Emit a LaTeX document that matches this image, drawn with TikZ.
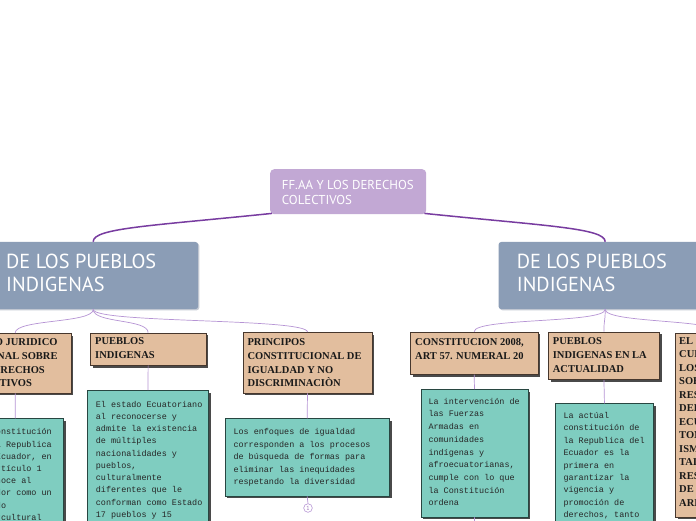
\documentclass[tikz,border=0pt]{standalone}
\usepackage{fontspec}
\usetikzlibrary{shadows,calc}
\newfontfamily\rootfont{PT Sans}
\newfontfamily\tanfont{Liberation Serif}
\newfontfamily\tealfont{Liberation Mono}
\definecolor{rootfill}{RGB}{194,168,212}
\definecolor{mainfill}{RGB}{139,157,182}
\definecolor{mainshadow}{RGB}{200,205,214}
\definecolor{tanfill}{RGB}{226,190,158}
\definecolor{tanborder}{RGB}{70,55,45}
\definecolor{tealfill}{RGB}{127,205,192}
\definecolor{tealborder}{RGB}{40,70,65}
\definecolor{shadowdark}{RGB}{55,55,55}
\definecolor{rootline}{RGB}{120,60,160}
\definecolor{branchline}{RGB}{182,148,212}
\newcommand\firststrut[1]{\rule{0pt}{#1}}
\tikzset{
  rootbox/.style={fill=rootfill, rounded corners=4pt, inner sep=0, anchor=north west},
  mainbox/.style={fill=mainfill, rounded corners=3pt, inner sep=0, anchor=north west,
    drop shadow={shadow xshift=1.2pt, shadow yshift=-1.2pt, fill=mainshadow, opacity=1}},
  tanbox/.style={fill=tanfill, draw=tanborder, line width=0.6pt, inner sep=0, anchor=north west,
    drop shadow={shadow xshift=2.2pt, shadow yshift=-2.2pt, fill=shadowdark, opacity=0.9}},
  tealbox/.style={fill=tealfill, draw=tealborder, line width=0.6pt, inner sep=0, anchor=north west,
    drop shadow={shadow xshift=2.2pt, shadow yshift=-2.2pt, fill=shadowdark, opacity=0.9}},
  roottext/.style={anchor=north west, inner sep=0, align=left, text=white,
    font=\rootfont\fontsize{12.9}{15}\selectfont},
  maintext/.style={anchor=north west, inner sep=0, align=left, text=white,
    font=\rootfont\fontsize{20.3}{23.3}\selectfont},
  tantext/.style={anchor=north west, inner sep=0, align=left, text=black!90,
    font=\tanfont\bfseries\fontsize{10.5}{13.8}\selectfont},
  tealtext/.style={anchor=north west, inner sep=0, align=left, text=black!85,
    font=\tealfont\fontsize{8.45}{12.4}\selectfont},
  rootconn/.style={draw=rootline, line width=1.5pt},
  branchconn/.style={draw=branchline, line width=0.7pt},
}
\begin{document}
\begin{tikzpicture}[x=1pt,y=-1pt]
\useasboundingbox (0,0) rectangle (696,520);
\fill[white] (0,0) rectangle (696,520);
\clip (0,0) rectangle (696,520);

% root
\node[rootbox, minimum width=156pt, minimum height=45pt] (root) at (270,169) {};
\node[roottext] (roott) at (281.7,179.6) {\firststrut{10pt}FF.AA Y LOS DERECHOS\\COLECTIVOS};

% main boxes
\node[mainbox, minimum width=210pt, minimum height=67.3pt] (lm) at (-12,241.7) {};
\node[maintext] (lmt) at (6,253.4) {\firststrut{15pt}DE LOS PUEBLOS\\INDIGENAS};
\node[mainbox, minimum width=213.4pt, minimum height=67.3pt] (rm) at (498.3,241.7) {};
\node[maintext] (rmt) at (516.7,253.4) {\firststrut{15pt}DE LOS PUEBLOS\\INDIGENAS};

% tan boxes
\node[tanbox, minimum width=111.7pt, minimum height=59.7pt] (l1) at (-41,333) {};
\node[tantext] (l1t) at (-38,335.2) {\firststrut{10pt}MARCO JURIDICO\\NACIONAL SOBRE\\LOS DERECHOS\\COLECTIVOS};
\node[tanbox, minimum width=115.7pt, minimum height=32.3pt] (l2) at (90,332.7) {};
\node[tantext] (l2t) at (95,334.5) {\firststrut{10pt}PUEBLOS\\INDIGENAS};
\node[tanbox, minimum width=129pt, minimum height=60.7pt] (l3) at (242.7,332) {};
\node[tantext] (l3t) at (247.3,335.2) {\firststrut{10pt}PRINCIPOS\\CONSTITUCIONAL DE\\IGUALDAD Y NO\\DISCRIMINACIÒN};
\node[tanbox, minimum width=127.7pt, minimum height=42.3pt] (r1) at (410,331.7) {};
\node[tantext] (r1t) at (415,335.2) {\firststrut{10pt}CONSTITUCION 2008,\\ART 57. NUMERAL 20};
\node[tanbox, minimum width=110.7pt, minimum height=47.6pt] (r2) at (548.3,331.7) {};
\node[tantext] (r2t) at (552.7,334.2) {\firststrut{10pt}PUEBLOS\\INDIGENAS EN LA\\ACTUALIDAD};
\node[tanbox, minimum width=90pt, minimum height=183.7pt] (r3) at (675,333) {};
\node[tantext, font=\tanfont\bfseries\fontsize{10.5}{13.5}\selectfont] (r3t) at (679,334.2) {\firststrut{10pt}EL IMPACTO\\CULTURAL DE\\LOS PUEBLOS\\SOBRE EL\\RESPETO\\DEL ESTADO\\ECUATORIANO\\TOMANDO EN\\ISMOS\\TALES\\RESPETO\\DE LAS\\ARMAS};

% teal boxes
\node[tealbox, minimum width=96pt, minimum height=130pt] (l1b) at (-33,418.3) {};
\node[tealtext, font=\tealfont\fontsize{8.45}{12.2}\selectfont] (l1bt) at (-24.5,424.6) {\firststrut{10pt}La Constitución\\de la Republica\\del Ecuador, en\\su artículo 1\\reconoce al\\Ecuador como un\\Estado\\intercultural};
\node[tealbox, minimum width=120.7pt, minimum height=160pt] (l2b) at (87.3,390) {};
\node[tealtext, font=\tealfont\fontsize{8.45}{12.25}\selectfont] (l2bt) at (95.7,397) {\firststrut{10pt}El estado Ecuatoriano\\al reconocerse y\\admite la existencia\\de múltiples\\nacionalidades y\\pueblos,\\culturalmente\\diferentes que le\\conforman como Estado\\17 pueblos y 15};
\node[tealbox, minimum width=164.3pt, minimum height=77.4pt] (l3b) at (224.7,418.3) {};
\node[tealtext, font=\tealfont\fontsize{8.45}{12.5}\selectfont] (l3bt) at (233.3,424.6) {\firststrut{10pt}Los enfoques de igualdad\\corresponden a los procesos\\de búsqueda de formas para\\eliminar las inequidades\\respetando la diversidad};
\node[tealbox, minimum width=107pt, minimum height=127.7pt] (r1b) at (420.7,389) {};
\node[tealtext, font=\tealfont\fontsize{8.45}{12.7}\selectfont] (r1bt) at (428.3,394) {\firststrut{10pt}La intervención de\\las Fuerzas\\Armadas en\\comunidades\\indígenas y\\afroecuatorianas,\\cumple con lo que\\la Constitución\\ordena};
\node[tealbox, minimum width=98.3pt, minimum height=150pt] (r2b) at (555,403.3) {};
\node[tealtext, font=\tealfont\fontsize{8.45}{12.4}\selectfont] (r2bt) at (563.3,408.3) {\firststrut{10pt}La actúal\\constitución de\\la Republica del\\Ecuador es la\\primera en\\garantizar la\\vigencia y\\promoción de\\derechos, tanto};

% small circle
\node[circle, draw=branchline, fill=white, line width=0.6pt, inner sep=0, minimum size=8.6pt,
  text=rootline!70, font=\rootfont\fontsize{6}{6}\selectfont] (c1) at (308,508) {1};
\coordinate (r1down) at (474,535);

% root connectors
\draw[rootconn] ($(root.south west)+(2,-1)$) .. controls (150,226) and (93,228) .. (lm.north);
\draw[rootconn] ($(root.south east)+(-2,-1)$) .. controls (546,226) and (605,228) .. (rm.north);

% branches
\draw[branchconn] (lm.south) .. controls +(0,14) and +(0,-14) .. (l1.north);
\draw[branchconn] (lm.south) .. controls +(0,14) and +(0,-14) .. (l2.north);
\draw[branchconn] (lm.south) .. controls +(0,14) and +(0,-14) .. (l3.north);
\draw[branchconn] (rm.south) .. controls +(0,14) and +(0,-14) .. (r1.north);
\draw[branchconn] (rm.south) .. controls +(0,14) and +(0,-14) .. (r2.north);
\draw[branchconn] (rm.south) .. controls +(0,14) and +(0,-14) .. (r3.north);
\draw[branchconn] (l1.south) -- (l1b.north);
\draw[branchconn] (l2.south) -- (l2b.north);
\draw[branchconn] (l3.south) -- (l3b.north);
\draw[branchconn] (r1.south) -- (r1b.north);
\draw[branchconn] (r2.south) -- (r2b.north);
\draw[branchconn] (l3b.south) -- (c1.north);
\draw[branchconn] (r1b.south) -- (r1down);
\end{tikzpicture}
\end{document}
